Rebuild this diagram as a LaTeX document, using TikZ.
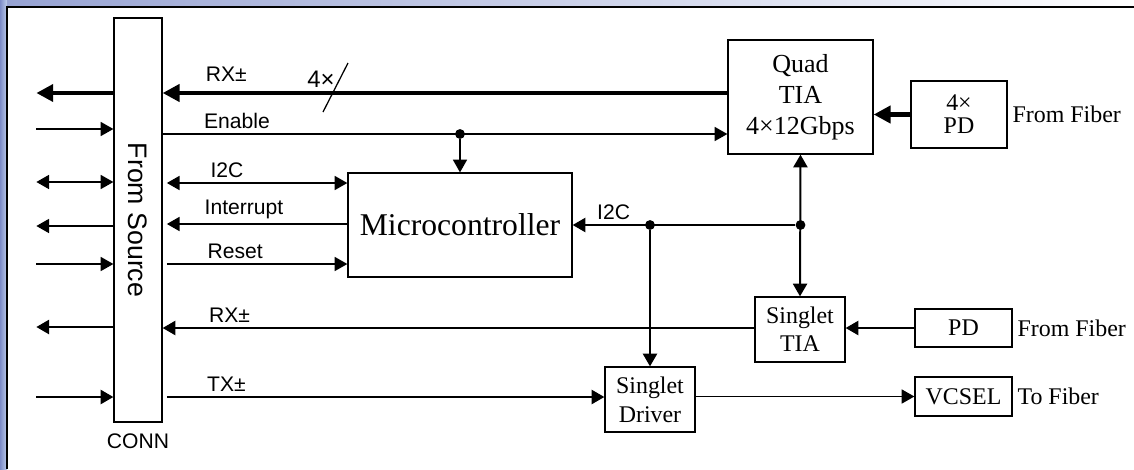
\documentclass[tikz,border=0pt]{standalone}
\usepackage{fontspec}
\setmainfont{Liberation Serif}
\newfontfamily\sigfont{Liberation Sans}
\usetikzlibrary{arrows.meta}

\begin{document}
\begin{tikzpicture}[x=0.025cm, y=-0.025cm,
        blk/.style={draw, line width=0.9pt, align=center, inner sep=0pt},
        lbl/.style={font=\sigfont\fontsize{15}{18}\selectfont},
        wire/.style={line width=0.9pt, >={Triangle[length=9pt,width=10pt]}},
        wide/.style={line width=1.4pt, >={Triangle[length=9pt,width=10pt]}},
        bus/.style={line width=3.5pt, >={Triangle[length=12pt,width=12pt]}},
        dot/.style={circle, fill, inner sep=0pt, minimum size=7pt}]
        \useasboundingbox (0,0) rectangle (1134,469);

        % Background strip and frame
        \definecolor{stripdark}{RGB}{125,140,200}
        \definecolor{striplight}{RGB}{190,205,235}
        \shade[left color=stripdark, right color=striplight] (0,0) rectangle (7,469);
        \shade[left color=stripdark!80, right color=white] (7,0) rectangle (1134,7);
        \draw[line width=0.9pt] (7,469) -- (7,7) -- (1134,7);

        % Nodes
        \draw (138,220)   node[blk, minimum width=1.2cm, minimum height=10.1cm] (conn) {};
        \draw (conn.center) node[rotate=-90, font=\sigfont\fontsize{19}{22}\selectfont] (srctxt) {From Source};
        \draw (conn.south) node[lbl, below, yshift=-4pt] (connlbl) {CONN};
        \draw (800.5,97)  node[blk, minimum width=3.625cm, minimum height=2.85cm, font=\fontsize{18.5}{22}\selectfont] (quad) {Quad\\TIA\\4×12Gbps};
        \draw (959,114.5) node[blk, minimum width=2.4cm, minimum height=1.675cm, font=\fontsize{17}{16.5}\selectfont] (qpd) {4×\\PD};
        \draw (460,225)   node[blk, minimum width=5.6cm, minimum height=2.6cm, font=\fontsize{22.5}{26}\selectfont] (mc) {Microcontroller};
        \draw (800,329.5) node[blk, minimum width=2.25cm, minimum height=1.625cm, font=\fontsize{17}{20}\selectfont] (stia) {Singlet\\TIA};
        \draw (963.5,328) node[blk, minimum width=2.425cm, minimum height=0.95cm, font=\fontsize{17}{20}\selectfont] (spd) {PD};
        \draw (650,399.5) node[blk, minimum width=2.25cm, minimum height=1.625cm, font=\fontsize{17}{20.5}\selectfont] (sdrv) {Singlet\\Driver};
        \draw (963.5,396.5) node[blk, minimum width=2.425cm, minimum height=0.975cm, font=\fontsize{17}{20}\selectfont] (vcsel) {VCSEL};

        % Fiber side
        \draw[bus, ->] (qpd.west) -- (quad.east |- qpd.west);
        \draw (qpd.east) node[right, font=\fontsize{17}{20}\selectfont] (fib1) {From Fiber};
        \draw[wide, ->] (spd.west) -- (stia.east |- spd.west);
        \draw (spd.east) node[right, font=\fontsize{17}{20}\selectfont] (fib2) {From Fiber};
        \draw[wire, ->] (sdrv.east |- vcsel.west) -- (vcsel.west);
        \draw (vcsel.east) node[right, font=\fontsize{17}{20}\selectfont] (fib3) {To Fiber};

        % Signals to the connector
        \draw[bus, ->] (quad.west |- 0,93) -- (conn.east |- 0,93) node[lbl, pos=0.936, above right, yshift=3pt] {RX±};
        \draw[wire] (323,112) -- (348,63);
        \draw (321,79) node[lbl, font=\sigfont\fontsize{17}{20}\selectfont] (quadn) {4×};
        \draw[wire, ->] (conn.east |- 0,134) -- (quad.west |- 0,134) node[lbl, pos=0.064, above right] {Enable};
        \draw (mc.north |- 0,134) node[dot] (jen) {};
        \draw[wire, ->] (jen) -- (mc.north);
        \draw[wire, <->, shorten <=3pt] (conn.east |- 0,183) -- (mc.west |- 0,183) node[lbl, pos=0.231, above right] {I2C};
        \draw[wire, ->, shorten >=3pt] (mc.west |- 0,224) -- (conn.east |- 0,224) node[lbl, pos=0.801, above right] {Interrupt};
        \draw[wire, ->, shorten <=3pt] (conn.east |- 0,264) -- (mc.west |- 0,264) node[lbl, pos=0.215, above right] {Reset};
        \draw[wide, ->] (stia.west |- 0,328) -- (conn.east |- 0,328) node[lbl, pos=0.931, above right] {RX±};
        \draw[wide, ->, shorten <=3pt] (conn.east |- 0,397) -- (sdrv.west |- 0,397) node[lbl, pos=0.088, above right] {TX±};

        % I2C bus
        \draw[wide, <->] (quad.south) -- (stia.north);
        \draw (quad.south |- mc.east) node[dot] (jtia) {};
        \draw (sdrv.north |- mc.east) node[dot] (jdrv) {};
        \draw[wide, ->] (jtia) -- (mc.east) node[lbl, pos=0.816, above] {I2C};
        \draw[wide, ->] (jdrv) -- (sdrv.north);

        % Connector pins
        \draw[bus, ->] (conn.west |- 0,93) -- ++(-77,0);
        \draw[wire, <-] (conn.west |- 0,129) -- ++(-77,0);
        \draw[wire, <->] (conn.west |- 0,182) -- ++(-77,0);
        \draw[wire, ->] (conn.west |- 0,226) -- ++(-77,0);
        \draw[wire, <-] (conn.west |- 0,264) -- ++(-77,0);
        \draw[wide, ->] (conn.west |- 0,327) -- ++(-77,0);
        \draw[wide, <-] (conn.west |- 0,397) -- ++(-77,0);
    \end{tikzpicture}
\end{document}
